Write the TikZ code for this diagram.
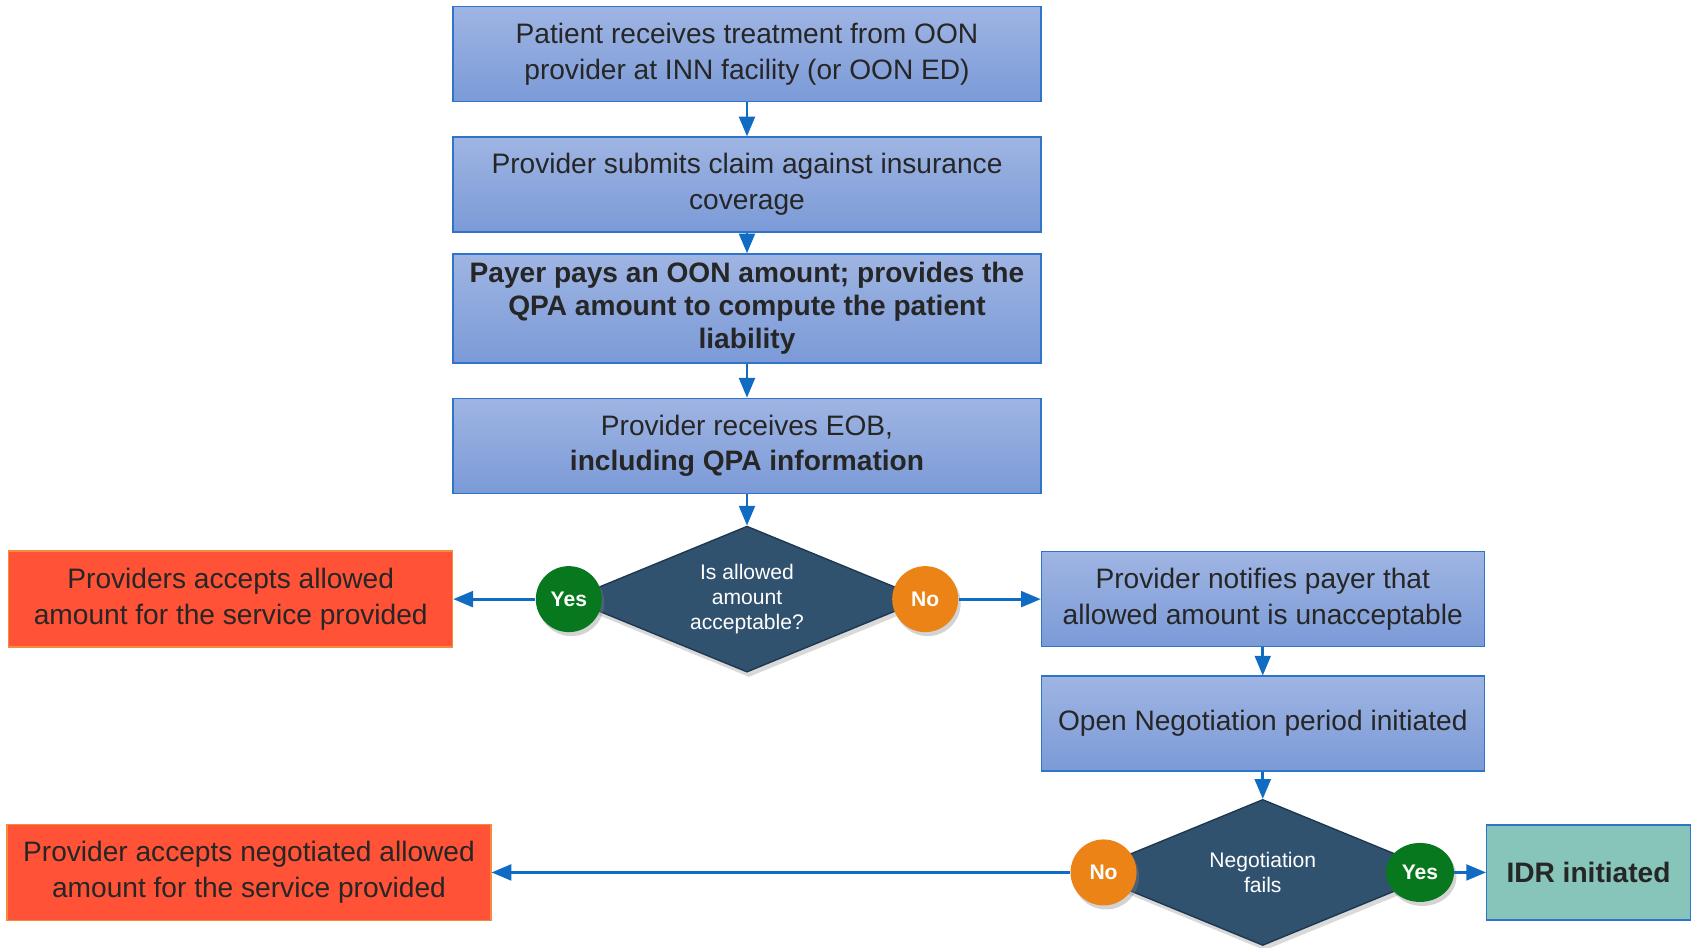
\documentclass[tikz,border=0pt]{standalone}
\usepackage{fontspec}
\setmainfont{Liberation Sans}
\usepackage{tikz}
\usetikzlibrary{positioning}
\usetikzlibrary{shapes.geometric}
\usetikzlibrary{shadows}
\usetikzlibrary{arrows}

\definecolor{boxtop}{HTML}{9FB5E3}
\definecolor{boxbot}{HTML}{7B9AD7}
\definecolor{boxline}{HTML}{2E74C9}
\definecolor{arrowblue}{HTML}{0F6CC2}
\definecolor{stopred}{HTML}{FF5236}
\definecolor{stopline}{HTML}{F58B3C}
\definecolor{decfill}{HTML}{30526F}
\definecolor{decline}{HTML}{1F3852}
\definecolor{yesgreen}{HTML}{08781F}
\definecolor{noorange}{HTML}{EB8317}
\definecolor{idrteal}{HTML}{87C4BA}
\definecolor{textgray}{HTML}{262626}

\tikzset{
  procbox/.style={rectangle, draw=boxline, line width=0.8pt, top color=boxtop, bottom color=boxbot,
    text=textgray, align=center, minimum width=11.76cm, minimum height=1.9cm, inner sep=2pt,
    font=\fontsize{16}{20.2}\selectfont},
  stopbox/.style={rectangle, draw=stopline, line width=0.8pt, fill=stopred, text=textgray,
    align=center, minimum height=1.92cm, inner sep=2pt, font=\fontsize{16}{20.2}\selectfont},
  decision/.style={diamond, draw=decline, line width=0.8pt, fill=decfill, text=white, align=center,
    inner sep=0pt, minimum width=7.1cm, minimum height=2.92cm, aspect=2.4,
    font=\fontsize{12}{14.4}\selectfont,
    drop shadow={opacity=0.3, shadow xshift=0.04cm, shadow yshift=-0.1cm}},
  answer/.style={circle, minimum size=1.32cm, inner sep=0pt, text=white,
    font=\fontsize{12}{14.4}\selectfont\bfseries,
    drop shadow={opacity=0.35, shadow xshift=0.05cm, shadow yshift=-0.08cm}},
  link/.style={-triangle 45, draw=arrowblue, line width=1.6pt},
}

\begin{document}
\begin{tikzpicture}
    \useasboundingbox (0,0) rectangle (33.82,-18.96);

    % Claim steps
    \node[procbox] (treat) at (14.94,-1.08) {Patient receives treatment from OON\\provider at INN facility (or OON ED)};
    \node[procbox, below = 0.68cm of treat] (claim) {Provider submits claim against insurance\\coverage};
    \node[procbox, below = 0.41cm of claim, minimum height=2.18cm, font=\fontsize{16}{18.8}\selectfont\bfseries] (pay) {Payer pays an OON amount; provides the\\QPA amount to compute the patient\\liability};
    \node[procbox, below = 0.68cm of pay] (eob) {Provider receives EOB,\\\textbf{including QPA information}};
    \draw[link] (treat) -- (claim);
    \draw[link] (claim) -- (pay);
    \draw[link] (pay) -- (eob);

    % First decision
    \node[decision, below = 0.63cm of eob] (allowed) {Is allowed\\amount\\acceptable?};
    \node[answer, fill=yesgreen] (yes1) at (allowed.west) {Yes};
    \node[answer, fill=noorange] (no1) at (allowed.east) {No};
    \draw[link] (eob) -- (allowed);

    \node[stopbox, minimum width=8.88cm, left = 1.64cm of yes1] (accept) {Providers accepts allowed\\amount for the service provided};
    \node[procbox, minimum width=8.86cm, right = 1.64cm of no1] (notify) {Provider notifies payer that\\allowed amount is unacceptable};
    \draw[link] (yes1) -- (accept);
    \draw[link] (no1) -- (notify);

    % Negotiation
    \node[procbox, minimum width=8.86cm, below = 0.56cm of notify] (open) {Open Negotiation period initiated};
    \node[decision, below = 0.54cm of open] (fails) {Negotiation\\fails};
    \node[answer, fill=noorange] (no2) at ([xshift=0.38cm]fails.west) {No};
    \node[answer, ellipse, minimum width=1.36cm, minimum height=1.18cm, fill=yesgreen] (yes2) at ([xshift=-0.42cm]fails.east) {Yes};
    \draw[link] (notify) -- (open);
    \draw[link] (open) -- (fails);

    % Outcomes
    \node[stopbox, minimum width=9.68cm, left = 11.57cm of no2] (negotiated) {Provider accepts negotiated allowed\\amount for the service provided};
    \node[rectangle, draw=boxline, line width=0.8pt, fill=idrteal, text=textgray, minimum width=4.08cm, minimum height=1.9cm, font=\fontsize{16}{20}\selectfont\bfseries, right = 0.63cm of yes2] (idr) {IDR initiated};
    \draw[link] (no2) -- (negotiated);
    \draw[link] (yes2) -- (idr);
\end{tikzpicture}
\end{document}
